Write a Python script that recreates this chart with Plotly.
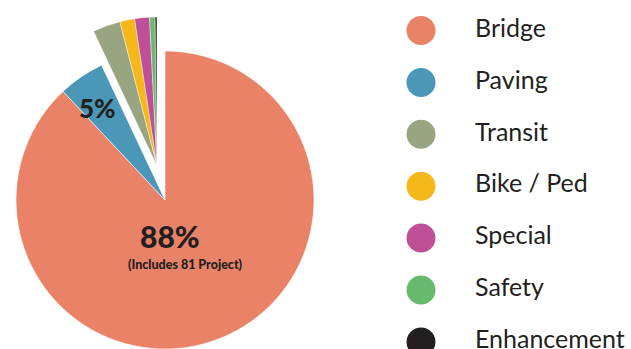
import plotly.graph_objects as go

# Project share by category (percent of total)
categories = ["Bridge", "Paving", "Transit", "Bike / Ped", "Special", "Safety", "Enhancement"]
shares = [88, 5, 3.0, 1.6, 1.6, 0.6, 0.2]
colors = ["#E98267", "#4B97B8", "#99A580", "#F5B81A", "#BF4F97", "#67BA6E", "#231F20"]
bridge_note = "(Includes 81 Project)"

W, H = 631, 349
TEXT = "#231F20"
FONT = "Lato"
CLEAR = "rgba(0,0,0,0)"

# pie geometry in pixels
R = 149
CX, CY = 165, 200          # main pie centre
PULL_DX, PULL_DY = -8, -34  # offset of the exploded group


def dom(cx, cy):
    return dict(x=[(cx - R) / W, (cx + R) / W],
                y=[1 - (cy + R) / H, 1 - (cy - R) / H])


main_n = 2
group_total = sum(shares[main_n:])
main_total = sum(shares[:main_n])

fig = go.Figure()

# Bridge and Paving, with a blank wedge where the exploded group sits
fig.add_trace(go.Pie(
    labels=categories[:main_n] + ["_rest"],
    values=shares[:main_n] + [group_total],
    marker=dict(colors=colors[:main_n] + [CLEAR],
                line=dict(color=["white"] * main_n + [CLEAR], width=0.6)),
    sort=False, direction="clockwise", rotation=0,
    textinfo="none", hoverinfo="label+percent", showlegend=False,
    domain=dom(CX, CY),
))

# the small categories, exploded together as one block
fig.add_trace(go.Pie(
    labels=["_rest2"] + categories[main_n:],
    values=[main_total] + shares[main_n:],
    marker=dict(colors=[CLEAR] + colors[main_n:],
                line=dict(color=[CLEAR] + ["rgba(255,255,255,0.7)"] * (len(categories) - main_n),
                          width=0.6)),
    sort=False, direction="clockwise", rotation=0,
    textinfo="none", hoverinfo="label+percent", showlegend=False,
    domain=dom(CX + PULL_DX, CY + PULL_DY),
))

# legend: big dots with category names
idx = list(range(len(categories)))
fig.add_trace(go.Scatter(
    x=[421] * len(categories), y=idx, mode="markers",
    marker=dict(size=29, color=colors, line=dict(width=0)),
    hoverinfo="skip", showlegend=False,
))
fig.add_trace(go.Scatter(
    x=[475] * len(categories), y=idx, mode="text",
    text=categories, textposition="middle right",
    textfont=dict(family=FONT, size=25, color=TEXT),
    hoverinfo="skip", showlegend=False,
))

# slice labels
total = sum(shares)
annos = [
    dict(x=170, y=1 - 236 / H, text=f"{shares[0] / total * 100:.0f}%", size=30),
    dict(x=185, y=1 - 264 / H, text=bridge_note, size=12.5),
    dict(x=97, y=1 - 108 / H, text=f"{shares[1] / total * 100:.0f}%", size=26),
]
for a in annos:
    fig.add_annotation(x=a["x"], y=a["y"], xref="x", yref="paper", text=a["text"],
                       showarrow=False, xanchor="center", yanchor="middle",
                       font=dict(family=FONT, size=a["size"], color=TEXT, weight=900))

ROW0, STEP = 30.5, 51.9
fig.update_layout(
    width=W, height=H,
    margin=dict(l=0, r=0, t=0, b=0),
    paper_bgcolor="white", plot_bgcolor=CLEAR,
    xaxis=dict(range=[0, W], domain=[0, 1], visible=False, fixedrange=True),
    yaxis=dict(range=[(H - ROW0) / STEP, -ROW0 / STEP], domain=[0, 1],
               visible=False, fixedrange=True),
    font=dict(family=FONT, color=TEXT),
)

fig.write_html("out.html")
